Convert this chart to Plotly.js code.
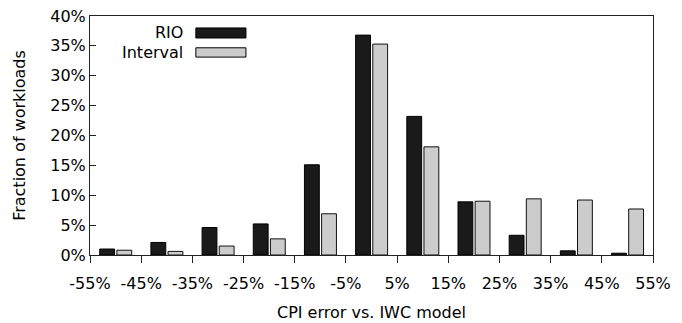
<!DOCTYPE html>
<html>
<head>
<meta charset="utf-8">
<script src="https://cdn.plot.ly/plotly-3.0.1.min.js"></script>
<style>html,body{margin:0;padding:0;background:#fff;}#chart{width:682px;height:323px;}</style>
</head>
<body>
<div id="chart"></div>
<script>
const binCenters = [-50, -40, -30, -20, -10, 0, 10, 20, 30, 40, 50];
const rioValues = [1.0, 2.1, 4.6, 5.2, 15.1, 36.8, 23.2, 8.9, 3.3, 0.7, 0.3];
const intervalValues = [0.8, 0.6, 1.5, 2.7, 6.9, 35.3, 18.1, 9.0, 9.4, 9.2, 7.7];
const seriesNames = ["RIO", "Interval"];
const xTickVals = [-55, -45, -35, -25, -15, -5, 5, 15, 25, 35, 45, 55];
const xTickText = ["-55%", "-45%", "-35%", "-25%", "-15%", "-5%", "5%", "15%", "25%", "35%", "45%", "55%"];
const yTickVals = [0, 5, 10, 15, 20, 25, 30, 35, 40];
const yTickText = ["0%", "5%", "10%", "15%", "20%", "25%", "30%", "35%", "40%"];

const font = {family: "DejaVu Sans", size: 16, color: "#000"};
const colors = ["#1a1a1a", "#cccccc"];

const traces = [
  {type: "bar", x: binCenters, y: rioValues, name: seriesNames[0], width: 2.9, offset: -3.1,
   marker: {color: colors[0], line: {color: "#000", width: 1}}, showlegend: false, hoverinfo: "none"},
  {type: "bar", x: binCenters, y: intervalValues, name: seriesNames[1], width: 2.9, offset: 0.25,
   marker: {color: colors[1], line: {color: "#111", width: 1}}, showlegend: false, hoverinfo: "none"}
];

const legendRows = [{yMid: 0.929, y0: 0.908, y1: 0.950}, {yMid: 0.848, y0: 0.828, y1: 0.867}];
const annotations = seriesNames.map((n, i) => ({
  text: n, xref: "paper", yref: "paper", x: 0.169, y: legendRows[i].yMid,
  xanchor: "right", yanchor: "middle", showarrow: false, font: font
}));
const shapes = seriesNames.map((n, i) => ({
  type: "rect", xref: "paper", yref: "paper", x0: 0.188, x1: 0.277,
  y0: legendRows[i].y0, y1: legendRows[i].y1,
  fillcolor: colors[i], line: {color: "#000", width: 1}
}));

const layout = {
  width: 682, height: 323,
  margin: {l: 90, r: 29, t: 16, b: 68},
  paper_bgcolor: "#fff", plot_bgcolor: "#fff",
  font: font,
  barmode: "overlay",
  xaxis: {
    range: [-55, 55], tickvals: xTickVals, ticktext: xTickText,
    ticks: "outside", ticklen: 7, tickcolor: "#222", tickwidth: 1,
    ticklabelstandoff: 7,
    showline: true, linecolor: "#222", linewidth: 1, mirror: true,
    showgrid: false, zeroline: false, fixedrange: true,
    title: {text: "CPI error vs. IWC model", font: font, standoff: 14}
  },
  yaxis: {
    range: [0, 40], tickvals: yTickVals, ticktext: yTickText,
    ticks: "inside", ticklen: 6, tickcolor: "#222", tickwidth: 1,
    showline: true, linecolor: "#222", linewidth: 1, mirror: true,
    showgrid: false, zeroline: false, fixedrange: true,
    title: {text: "Fraction of workloads", font: font, standoff: 20}
  },
  annotations: annotations,
  shapes: shapes
};

Plotly.newPlot("chart", traces, layout, {displayModeBar: false, staticPlot: true});
</script>
</body>
</html>
